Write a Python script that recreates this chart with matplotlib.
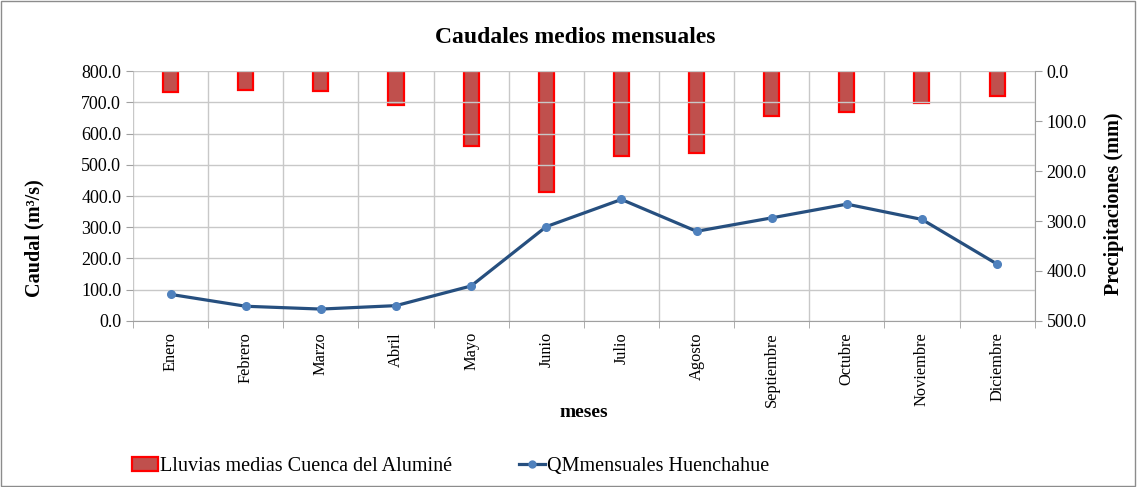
import numpy as np
import matplotlib
matplotlib.use("Agg")
from matplotlib import pyplot as plt
from matplotlib.ticker import FormatStrFormatter
from matplotlib.patches import Rectangle

plt.rcParams["font.family"] = ["Liberation Serif", "DejaVu Serif"]

meses = ["Enero", "Febrero", "Marzo", "Abril", "Mayo", "Junio", "Julio",
         "Agosto", "Septiembre", "Octubre", "Noviembre", "Diciembre"]
lluvias = [41, 37, 39, 68, 150, 241, 169, 163, 89, 81, 63, 50]  # mm
caudal = [85, 47, 38, 49, 112, 302, 389, 287, 330, 374, 325, 182]  # m3/s

LINE_COLOR = "#264F7F"
MARKER_COLOR = "#4F81BD"
BAR_COLOR = "#C0504D"
GRID = "#C8C8C8"

fig = plt.figure(figsize=(11.37, 4.87), dpi=100)
ax = fig.add_axes([0.117, 0.341, 0.793, 0.513])
ax2 = ax.twinx()

x = np.arange(len(meses))

# caudal on left axis
ax.plot(x, caudal, color=LINE_COLOR, linewidth=2.3, marker="o",
        markersize=5.5, markerfacecolor=MARKER_COLOR,
        markeredgecolor=MARKER_COLOR, zorder=3)
ax.set_ylim(0, 800)
ax.set_yticks(np.arange(0, 801, 100))
ax.yaxis.set_major_formatter(FormatStrFormatter("%.1f"))
ax.set_xlim(-0.5, len(meses) - 0.5)
ax.set_xticks(x)
ax.set_xticklabels(meses, rotation=90)
ax.set_xticks(np.arange(-0.5, len(meses), 1), minor=True)
ax.tick_params(axis="x", which="major", length=0, pad=8, labelsize=11.8)
ax.tick_params(axis="x", which="minor", length=5, color="#A0A0A0")
ax.tick_params(axis="y", length=5, color="#A0A0A0", labelsize=13)
ax.grid(axis="y", which="major", color=GRID, linewidth=1)
ax.grid(axis="x", which="minor", color=GRID, linewidth=1)
ax.set_axisbelow(True)
for s in ("top", "left"):
    ax.spines[s].set_visible(False)
ax.spines["bottom"].set_color("#A0A0A0")
ax.spines["right"].set_visible(False)
ax.set_ylabel("Caudal (m³/s)", fontsize=14.5, fontweight="bold")
ax.yaxis.set_label_coords(-0.098, 0.33)
ax.set_xlabel("meses", fontsize=14, fontweight="bold", labelpad=-2)

# lluvias on right axis, inverted
ax2.bar(x, lluvias, width=0.2, color=BAR_COLOR, edgecolor="red",
        linewidth=1.6, zorder=2)
ax2.set_ylim(500, 0)
ax2.set_yticks(np.arange(0, 501, 100))
ax2.yaxis.set_major_formatter(FormatStrFormatter("%.1f"))
ax2.tick_params(axis="y", length=5, color="#A0A0A0", labelsize=13)
for s in ("top", "left", "bottom"):
    ax2.spines[s].set_visible(False)
ax2.spines["right"].set_color("#A0A0A0")
ax2.set_ylabel("Precipitaciones (mm)", fontsize=14.5, fontweight="bold")
ax2.yaxis.set_label_coords(1.077, 0.47)
ax.set_zorder(ax2.get_zorder() + 1)
ax.patch.set_visible(False)
ax2.patch.set_visible(True)

fig.text(0.506, 0.922, "Caudales medios mensuales", ha="center",
         va="center", fontsize=17, fontweight="bold")

handles = [Rectangle((0, 0), 1, 1, facecolor=BAR_COLOR, edgecolor="red",
                     linewidth=1.6),
           plt.Line2D([], [], color=LINE_COLOR, linewidth=2.3, marker="o",
                      markersize=5, markerfacecolor=MARKER_COLOR,
                      markeredgecolor=MARKER_COLOR)]
fig.legend(handles, ["Lluvias medias Cuenca del Aluminé",
                     "QMmensuales Huenchahue"],
           loc="center left", bbox_to_anchor=(0.1, 0.043), ncol=2,
           frameon=False, fontsize=14.5, handlelength=1.3,
           handletextpad=0.1, columnspacing=3.3)

fig.patches.append(Rectangle((0.001, 0.002), 0.997, 0.996,
                             transform=fig.transFigure, fill=False,
                             edgecolor="#8C8C8C", linewidth=1))

fig.savefig("out.png", dpi=100)
